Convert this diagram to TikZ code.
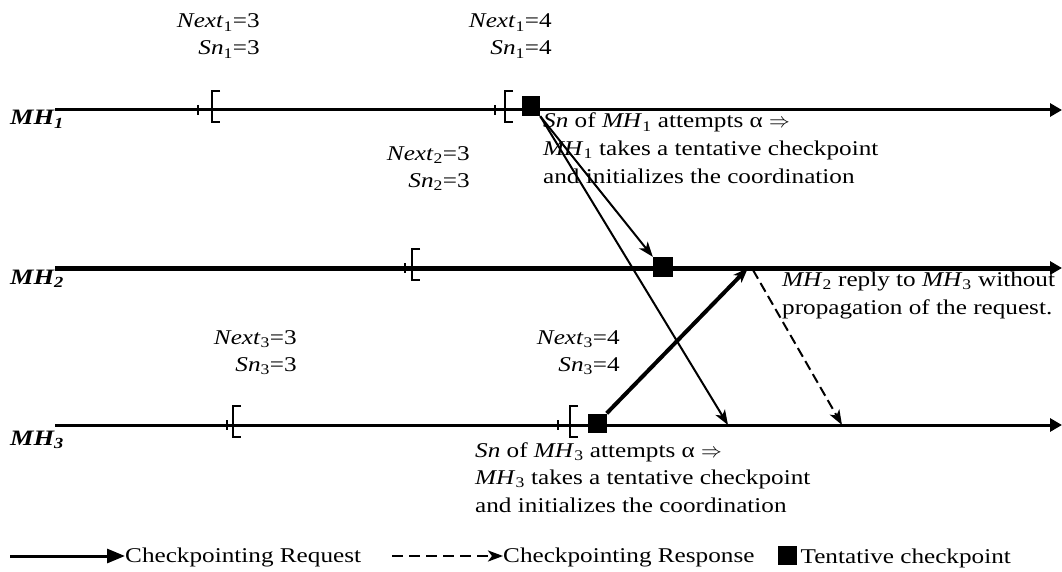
\documentclass[tikz,border=0pt]{standalone}
\usepackage{fontspec}
\setmainfont{Liberation Serif}[FakeStretch=1.2]
\usetikzlibrary{arrows.meta,positioning,calc}

\begin{document}
\begin{tikzpicture}[x=1pt, y=-1pt,
  txt/.style={font=\fontsize{21}{27.5}\selectfont, align=left, inner sep=0pt},
  seqno/.style={font=\fontsize{21}{27}\selectfont, align=right, inner sep=0pt},
  host/.style={font=\fontsize{22}{26}\selectfont\bfseries\itshape, inner sep=0pt},
  timeline/.style={line width=3pt, -{Triangle[length=12pt,width=13pt]}},
  cpt/.style={fill=black, minimum width=19pt, minimum height=19pt, inner sep=0pt},
  req/.style={line width=2pt, -{Stealth[length=15pt,width=11pt,inset=4pt]}},
  rsp/.style={line width=2pt, dash pattern=on 10pt off 5pt, -{Stealth[length=15pt,width=11pt,inset=4pt]}},
  brk/.style={line width=2pt},
]
\useasboundingbox (0,0) rectangle (1062,572);
% --- mobile hosts ---
\node[host, anchor=base west] (mh1) at (10,125) {MH\textsubscript{1}};
\node[host, anchor=base west] (mh2) at (10,284) {MH\textsubscript{2}};
\node[host, anchor=base west] (mh3) at (10,445) {MH\textsubscript{3}};
\coordinate (h1s) at (55,110);  \coordinate (h1e) at (1062,110);
\coordinate (h2s) at (55,268);  \coordinate (h2e) at (1062,268);
\coordinate (h3s) at (55,425);  \coordinate (h3e) at (1062,425);
\draw[timeline] (h1s) -- (h1e);
\draw[timeline, line width=5pt] (h2s) -- (h2e);
\draw[timeline] (h3s) -- (h3e);
% --- intervals ---
\foreach \t/\b/\y in {198/212/110, 495/505/110, 405/412/268, 227/233/425, 558/570/425}{
  \draw[line width=1.5pt] (\t,\y-5) -- (\t,\y+5);
  \draw[brk] (\b+8,\y-19) -- (\b,\y-19) -- (\b,\y+12) -- (\b+8,\y+12);
}
\node[seqno, anchor=base east] (n13) at (260,55) {\textit{Next}\textsubscript{1}=3\\\textit{Sn}\textsubscript{1}=3};
\node[seqno, anchor=base east] (n14) at (552,55) {\textit{Next}\textsubscript{1}=4\\\textit{Sn}\textsubscript{1}=4};
\node[seqno, anchor=base east] (n23) at (470,187) {\textit{Next}\textsubscript{2}=3\\\textit{Sn}\textsubscript{2}=3};
\node[seqno, anchor=base east] (n33) at (297,371) {\textit{Next}\textsubscript{3}=3\\\textit{Sn}\textsubscript{3}=3};
\node[seqno, anchor=base east] (n34) at (620,371) {\textit{Next}\textsubscript{3}=4\\\textit{Sn}\textsubscript{3}=4};
% --- tentative checkpoints ---
\node[cpt, minimum width=18pt, minimum height=20pt] (cp1) at (531,106) {};
\node[cpt, minimum width=20pt, minimum height=20pt] (cp2) at (663,267) {};
\node[cpt] (cp3) at (597,423) {};
% --- messages ---
\coordinate (q3) at (728,425);
\coordinate (p2) at (748,268);
\coordinate (r2) at (753,270);
\coordinate (r3) at (842,425);
\draw[req] (cp1.south east) -- (cp2.north west);
\draw[req] (cp1.south east) -- (q3);
\draw[req, line width=4pt] (cp3.north east) -- (p2);
\draw[rsp] (r2) -- (r3);
% --- comments ---
\node[txt, anchor=base west] (c1) at (543,183) {\textit{Sn} of \textit{MH}\textsubscript{1} attempts α $\Rightarrow$\\\textit{MH}\textsubscript{1} takes a tentative checkpoint\\and initializes the coordination};
\node[txt, anchor=base west] (c2) at (782,314) {\textit{MH}\textsubscript{2} reply to \textit{MH}\textsubscript{3} without\\propagation of the request.};
\node[txt, anchor=base west] (c3) at (475,512) {\textit{Sn} of \textit{MH}\textsubscript{3} attempts α $\Rightarrow$\\\textit{MH}\textsubscript{3} takes a tentative checkpoint\\and initializes the coordination};
% --- legend ---
\coordinate (l1s) at (10,556);  \coordinate (l1e) at (125,556);
\coordinate (l2s) at (392,556); \coordinate (l2e) at (503,556);
\draw[line width=3pt, -{Triangle[length=18pt,width=14pt]}] (l1s) -- (l1e);
\node[txt, anchor=base west] (lg1) at (l1e |- 0,562) {Checkpointing Request};
\draw[rsp, line width=2.5pt, dash pattern=on 11pt off 6pt] (l2s) -- (l2e);
\node[txt, anchor=base west] (lg2) at (l2e |- 0,562) {Checkpointing Response};
\node[cpt, anchor=south west] (lg3) at (778,565) {};
\node[txt, right=3pt of lg3.south east, anchor=south west, yshift=-3pt] (lg3t) {Tentative checkpoint};
\end{tikzpicture}
\end{document}
